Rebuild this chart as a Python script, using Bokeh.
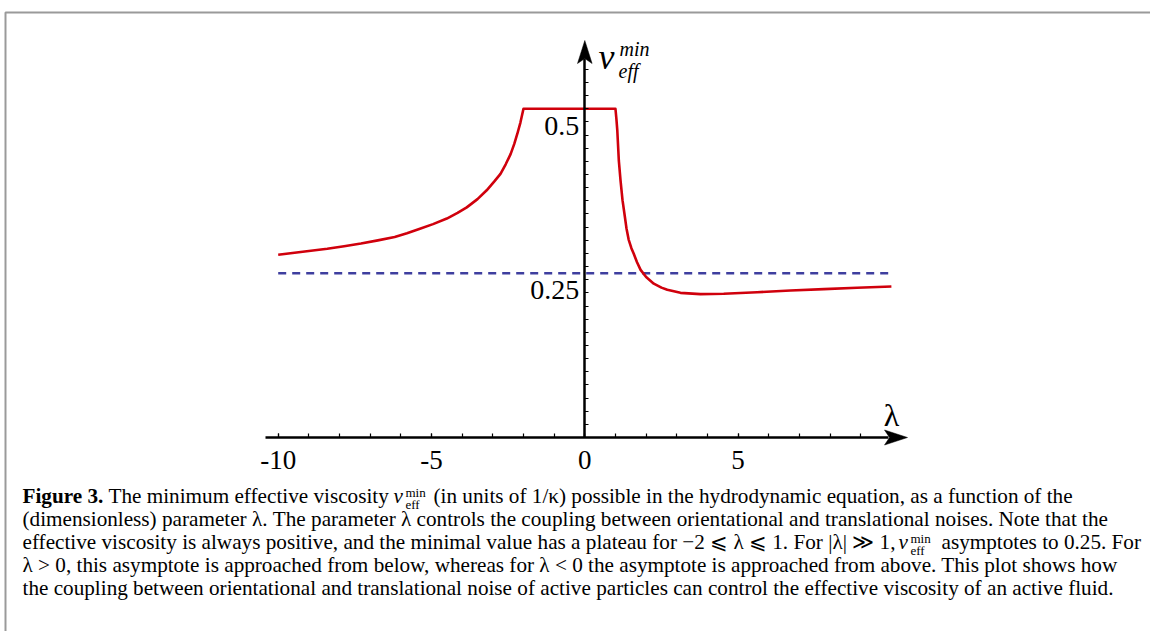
from bokeh.plotting import figure
from bokeh.models import Range1d, FixedTicker
from bokeh.core.properties import value
from bokeh.embed import file_html
from bokeh.resources import INLINE

# ---------------- data ----------------
lam_curve = [-10.0, -9.2, -8.4, -7.85, -7.3, -6.75, -6.2, -5.8, -5.4, -4.95, -4.5, -4.15, -3.85,
             -3.5, -3.2, -2.95, -2.75, -2.58, -2.42, -2.3, -2.2, -2.1, -2.0,
             1.0, 1.03, 1.06, 1.11, 1.165, 1.23, 1.3, 1.36, 1.43, 1.52, 1.6, 1.7, 1.82, 2.0,
             2.25, 2.5, 2.69, 3.12, 3.77, 4.53, 5.62, 6.71, 7.8, 8.88, 10.0]
nu_curve = [0.278, 0.2825, 0.287, 0.291, 0.295, 0.2998, 0.305, 0.3105, 0.317, 0.3245, 0.333, 0.3415, 0.350,
            0.3625, 0.376, 0.3895, 0.401, 0.4155, 0.431, 0.4465, 0.462, 0.479, 0.5,
            0.5, 0.485, 0.467, 0.421, 0.391, 0.361, 0.338, 0.318, 0.301, 0.288, 0.279, 0.267, 0.255, 0.244,
            0.234, 0.228, 0.2246, 0.220, 0.218, 0.2186, 0.221, 0.2236, 0.2256, 0.2277, 0.2297]
lam_asym = [-10.0, 10.0]
nu_asym = [0.25, 0.25]

x_major_ticks = [-10, -5, 0, 5]
x_tick_labels = ["-10", "-5", "0", "5"]
x_minor_ticks = list(range(-10, 10))
y_minor_ticks = [round(0.02 * k, 2) for k in range(1, 30)]
y_label_values = [0.25, 0.5]
y_tick_labels = ["0.25", "0.5"]

# ---------------- layout helpers (page pixels -> data) ----------------
W, H = 1150, 631
X0, SX = 584.3, 30.66     # x pixel of lambda=0, px per unit
Y0, SY = 437.0, 657.5     # y pixel of nu=0, px per unit
BL = 0.34                 # baseline correction (fraction of font size)


def X(px):
    return (px - X0) / SX


def Y(py):
    return (Y0 - py) / SY


def YT(py, fs):
    """data y for a text whose baseline should sit at page pixel py"""
    return Y(py - BL * fs)


p = figure(width=W, height=H, x_range=Range1d(-X0 / SX, (W - X0) / SX),
           y_range=Range1d((Y0 - H) / SY, Y0 / SY),
           output_backend="svg", toolbar_location=None, min_border=0)
p.grid.visible = False
p.outline_line_color = None
p.background_fill_color = "white"
p.border_fill_color = "white"

SERIF = "Liberation Serif"

# frame of the figure panel (top and left edge)
p.line([X(5), X(5), X(1153)], [Y(660), Y(12), Y(12)], line_color="#9a9a9a", line_width=2)

# axes
xa = p.xaxis[0]
xa.fixed_location = 0
xa.bounds = (X(265), X(888))
xa.ticker = FixedTicker(ticks=x_major_ticks, minor_ticks=x_minor_ticks)
xa.major_label_overrides = {t: s for t, s in zip(x_major_ticks, x_tick_labels)}
xa.axis_line_width = 2.5
xa.axis_line_color = "black"
xa.major_tick_in = 4
xa.major_tick_out = 0
xa.minor_tick_in = 4
xa.minor_tick_out = 0
xa.major_tick_line_width = 1.2
xa.minor_tick_line_width = 1.2
xa.major_label_text_font = SERIF
xa.major_label_text_font_size = "27px"
xa.major_label_text_color = "black"
xa.major_label_standoff = 13

ya = p.yaxis[0]
ya.fixed_location = 0
ya.bounds = (0, Y(58))
ya.ticker = FixedTicker(ticks=[], minor_ticks=y_minor_ticks)
ya.axis_line_width = 2.5
ya.axis_line_color = "black"
ya.major_tick_in = 4
ya.major_tick_out = 0
ya.minor_tick_in = 4
ya.minor_tick_out = 0
ya.minor_tick_line_width = 1.2
ya.major_label_text_font_size = "0px"
ya.major_label_standoff = 0

# arrow heads
hx, hl, hn = 7.3 / SX, 23.0, 5.0
tip_y = Y(40)
p.patch([0, hx, 0, -hx], [tip_y, tip_y - hl / SY, tip_y - (hl - hn) / SY, tip_y - hl / SY],
        color="black", line_width=0.5)
tip_x = X(907)
hy = 7.5 / SY
p.patch([tip_x, tip_x - hl / SX, tip_x - (hl - hn) / SX, tip_x - hl / SX], [0, hy, 0, -hy],
        color="black", line_width=0.5)

# y tick labels (drawn below-left of their values, as in the reference)
p.text(x=[0] * len(y_label_values), y=y_label_values, text=y_tick_labels,
       x_offset=-5.5, y_offset=26.7 - BL * 28, text_align="right", text_baseline="alphabetic",
       text_font=value(SERIF), text_font_size="28px", text_color="black")


def T(px, py, txt, fs, style="normal", align="left"):
    p.text(x=[X(px)], y=[YT(py, fs)], text=[txt], text_font=value(SERIF), text_font_style=style,
           text_font_size=f"{fs}px", text_baseline="alphabetic", text_align=align,
           text_color="black")


# axis titles
T(598, 69, "ν", 36, "italic")
T(619, 55, "min", 20, "italic")
T(618, 77, "eff", 20, "italic")
T(891, 425, "λ", 32, "normal", "center")

# data
p.line(lam_asym, nu_asym, line_color="#3f3f9f", line_width=2.5, line_dash="8 6")
p.line(lam_curve, nu_curve, line_color="#d0000c", line_width=2.6, line_join="round")

# caption
CF = 21.2
segs = [
    (22, 503, "Figure 3.", CF, "bold"),
    (108, 503, "The minimum effective viscosity", CF, "normal"),
    (393, 503, "ν", CF, "italic"),
    (405, 496, "min", 13, "normal"),
    (405, 508, "eff", 13, "normal"),
    (433, 503, "(in units of 1/κ) possible in the hydrodynamic equation, as a function of the", CF, "normal"),
    (22, 526, "(dimensionless) parameter λ. The parameter λ controls the coupling between orientational and translational noises. Note that the", CF, "normal"),
    (22, 549, "effective viscosity is always positive, and the minimal value has a plateau for −2 ⩽ λ ⩽ 1. For |λ| ≫ 1,", CF, "normal"),
    (898, 549, "ν", CF, "italic"),
    (910, 542, "min", 13, "normal"),
    (910, 554, "eff", 13, "normal"),
    (941, 549, "asymptotes to 0.25. For", CF, "normal"),
    (22, 572, "λ > 0, this asymptote is approached from below, whereas for λ < 0 the asymptote is approached from above. This plot shows how", CF, "normal"),
    (22, 595, "the coupling between orientational and translational noise of active particles can control the effective viscosity of an active fluid.", CF, "normal"),
]
for sx_, sy_, txt, fs, style in segs:
    T(sx_, sy_, txt, fs, style)

open("out.html", "w").write(file_html(p, INLINE))
